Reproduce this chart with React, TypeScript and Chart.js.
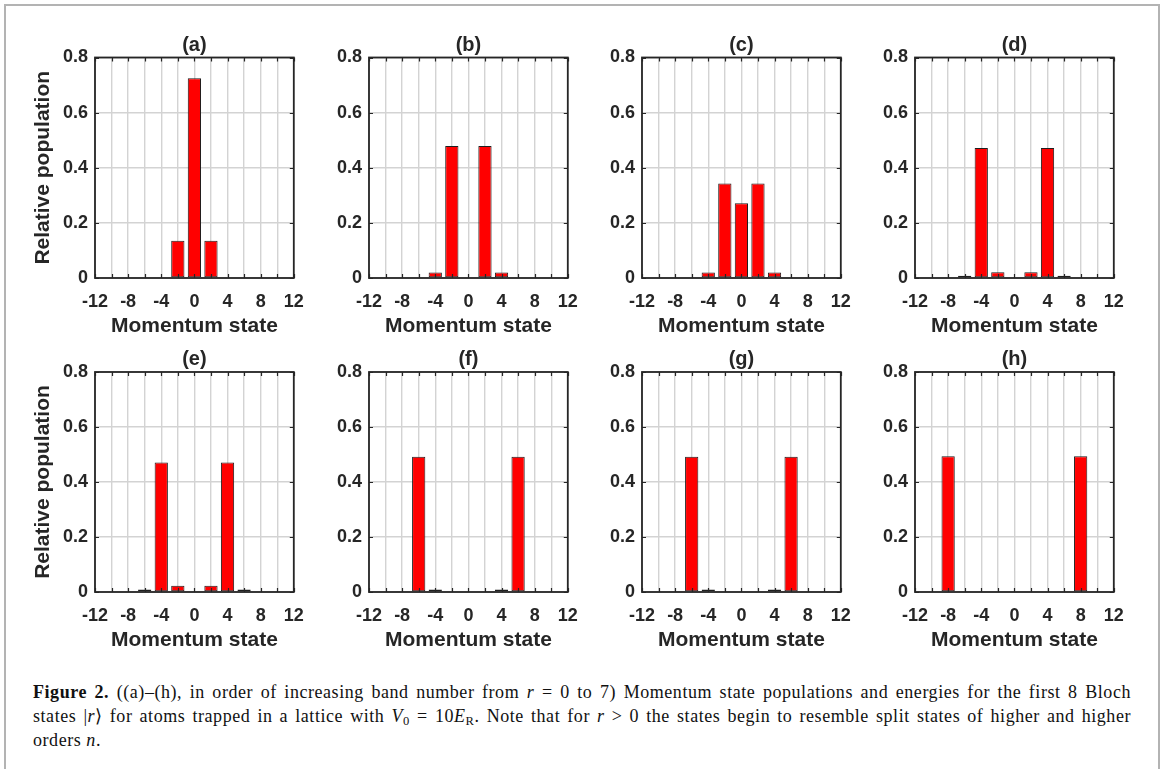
import React, { useEffect, useRef } from 'react';
import { Chart, registerables } from 'chart.js';

Chart.register(...registerables);

// ---- data ----
const STATES = [-12, -10, -8, -6, -4, -2, 0, 2, 4, 6, 8, 10, 12];
const POP_A = [0, 0, 0, 0, 0, 0.135, 0.725, 0.135, 0, 0, 0, 0, 0];
const POP_B = [0, 0, 0, 0, 0.02, 0.479, 0, 0.479, 0.02, 0, 0, 0, 0];
const POP_C = [0, 0, 0, 0, 0.02, 0.343, 0.271, 0.343, 0.02, 0, 0, 0, 0];
const POP_D = [0, 0, 0, 0.008, 0.472, 0.021, 0, 0.021, 0.472, 0.008, 0, 0, 0];
const POP_E = [0, 0, 0, 0.009, 0.471, 0.023, 0, 0.023, 0.471, 0.009, 0, 0, 0];
const POP_F = [0, 0, 0.004, 0.492, 0.009, 0, 0, 0, 0.009, 0.492, 0.004, 0, 0];
const POP_G = [0, 0, 0.004, 0.492, 0.009, 0, 0, 0, 0.009, 0.492, 0.004, 0, 0];
const POP_H = [0, 0, 0.494, 0.004, 0, 0, 0, 0, 0, 0.004, 0.494, 0, 0];
const PANEL_TITLES = ['(a)', '(b)', '(c)', '(d)', '(e)', '(f)', '(g)', '(h)'];
const PANEL_VALUES = [POP_A, POP_B, POP_C, POP_D, POP_E, POP_F, POP_G, POP_H];
const X_LABELED_TICKS = [-12, -8, -4, 0, 4, 8, 12];
const X_TITLE = 'Momentum state';
const Y_TITLE = 'Relative population';

// ---- layout / style ----
const FONT = "'Liberation Sans', Arial, Helvetica, sans-serif";
const INK = '#262626';
const Y_AXIS_W = 95;
const X_AXIS_H = 70;
const TITLE_H = 56;
const RIGHT_PAD = 14;
const PLOT_W = 208;
const COL_LEFT = [95, 369, 642, 915];
const ROW_TOP = [56, 372];
const ROW_H = [222, 220];
const TITLE_GAP = [10.5, 13];
const TICK_SIZE = 18;
const TITLE_SIZE = 20;

const boxPlugin = {
  id: 'matlabBox',
  afterDatasetsDraw(chart: any) {
    const { ctx, chartArea: a, scales } = chart;
    const x = scales.x;
    const y = scales.y;
    ctx.save();
    ctx.strokeStyle = INK;
    ctx.lineWidth = 1.2;
    ctx.beginPath();
    x.ticks.forEach((t: any) => {
      const p = Math.round(x.getPixelForValue(t.value)) + 0.5;
      ctx.moveTo(p, a.bottom);
      ctx.lineTo(p, a.bottom - 4);
      ctx.moveTo(p, a.top);
      ctx.lineTo(p, a.top + 4);
    });
    y.ticks.forEach((t: any) => {
      const p = Math.round(y.getPixelForValue(t.value)) + 0.5;
      ctx.moveTo(a.left, p);
      ctx.lineTo(a.left + 4, p);
      ctx.moveTo(a.right, p);
      ctx.lineTo(a.right - 4, p);
    });
    ctx.stroke();
    ctx.lineWidth = 1.8;
    ctx.strokeRect(a.left, a.top, a.right - a.left, a.bottom - a.top);
    ctx.restore();
  },
};

function Panel({ idx }: { idx: number }) {
  const ref = useRef<HTMLCanvasElement | null>(null);
  const row = Math.floor(idx / 4);
  const col = idx % 4;
  const w = Y_AXIS_W + PLOT_W + RIGHT_PAD;
  const h = TITLE_H + ROW_H[row] + X_AXIS_H;
  const left = COL_LEFT[col] - Y_AXIS_W;
  const top = ROW_TOP[row] - TITLE_H;

  useEffect(() => {
    if (!ref.current) return;
    const values = PANEL_VALUES[idx];
    const titleCenter = TITLE_H - TITLE_GAP[row];
    const titleLine = TITLE_SIZE * 1.2;
    const tPadTop = titleCenter - titleLine / 2;
    const tPadBottom = Math.max(0, TITLE_H - titleLine - tPadTop);
    const xLabelLine = TICK_SIZE * 1.2;
    const chart = new Chart(ref.current, {
      type: 'bar',
      data: {
        datasets: [
          {
            data: STATES.map((s, i) => ({ x: s, y: values[i] })),
            backgroundColor: '#ff0000',
            borderColor: '#1e1e1e',
            borderWidth: 1,
            borderSkipped: false,
            barPercentage: 0.8,
            categoryPercentage: 1,
          } as any,
        ],
      },
      options: {
        responsive: false,
        maintainAspectRatio: false,
        animation: false,
        devicePixelRatio: 1,
        layout: { padding: { left: 0, right: RIGHT_PAD, top: 0, bottom: 0 } },
        plugins: {
          legend: { display: false },
          tooltip: { enabled: false },
          title: {
            display: true,
            fullSize: false,
            text: PANEL_TITLES[idx],
            color: INK,
            font: { family: FONT, size: TITLE_SIZE, weight: 'bold' },
            padding: { top: tPadTop, bottom: tPadBottom },
          },
        },
        scales: {
          x: {
            type: 'linear',
            min: -12,
            max: 12,
            offset: false,
            grid: { offset: false, color: '#d3d3d3', lineWidth: 1.4, drawTicks: false },
            border: { display: false },
            ticks: {
              stepSize: 2,
              autoSkip: false,
              maxRotation: 0,
              padding: 24 - xLabelLine / 2,
              color: INK,
              font: { family: FONT, size: TICK_SIZE, weight: 'bold' },
              callback: (v: any) => (X_LABELED_TICKS.includes(Number(v)) ? String(v) : ''),
            },
            title: {
              display: true,
              text: X_TITLE,
              color: INK,
              font: { family: FONT, size: 21, weight: 'bold' },
              padding: { top: 0, bottom: 9.6 },
            },
            afterFit: (s: any) => {
              s.height = X_AXIS_H;
            },
          },
          y: {
            type: 'linear',
            min: 0,
            max: 0.8,
            grid: { color: '#d3d3d3', lineWidth: 1.4, drawTicks: false },
            border: { display: false },
            ticks: {
              stepSize: 0.2,
              padding: 7,
              color: INK,
              font: { family: FONT, size: TICK_SIZE, weight: 'bold' },
            },
            title: {
              display: col === 0,
              text: Y_TITLE,
              color: INK,
              font: { family: FONT, size: 21, weight: 'bold' },
              padding: { top: 30.4, bottom: 0 },
            },
            afterFit: (s: any) => {
              s.width = Y_AXIS_W;
            },
          },
        },
      } as any,
      plugins: [boxPlugin],
    });
    return () => chart.destroy();
  }, [idx]);

  return (
    <canvas
      ref={ref}
      width={w}
      height={h}
      style={{ position: 'absolute', left, top, width: w, height: h }}
    />
  );
}

const lineStyle: React.CSSProperties = {
  display: 'block',
  textAlign: 'justify',
  textAlignLast: 'justify' as any,
  height: 24,
};

const subStyle: React.CSSProperties = { fontSize: '0.7em', lineHeight: 0, verticalAlign: '-0.2em' };

export default function App() {
  return (
    <div
      style={{
        position: 'absolute',
        left: 0,
        top: 0,
        width: 1168,
        height: 769,
        background: '#fff',
        overflow: 'hidden',
      }}
    >
      <div
        style={{
          position: 'absolute',
          left: 4,
          top: 4,
          width: 1156,
          height: 820,
          border: '2px solid #b3b3b3',
          boxSizing: 'border-box',
        }}
      />
      {PANEL_TITLES.map((_, i) => (
        <Panel key={i} idx={i} />
      ))}
      <div
        style={{
          position: 'absolute',
          left: 33,
          top: 680,
          width: 1098,
          fontFamily: "'Liberation Serif', 'Times New Roman', serif",
          fontSize: 18,
          letterSpacing: '0.55px',
          lineHeight: '24px',
          color: '#111',
        }}
      >
        <div style={lineStyle}>
          <b>Figure 2.</b> ((a)–(h), in order of increasing band number from <i>r</i> = 0 to 7) Momentum state
          populations and energies for the first 8 Bloch
        </div>
        <div style={lineStyle}>
          states |<i>r</i>⟩ for atoms trapped in a lattice with <i>V</i>
          <sub style={subStyle}>0</sub> = 10<i>E</i>
          <sub style={subStyle}>R</sub>. Note that for <i>r</i> &gt; 0 the states begin to resemble split states of
          higher and higher
        </div>
        <div style={{ display: 'block', height: 24 }}>
          orders <i>n</i>.
        </div>
      </div>
    </div>
  );
}
